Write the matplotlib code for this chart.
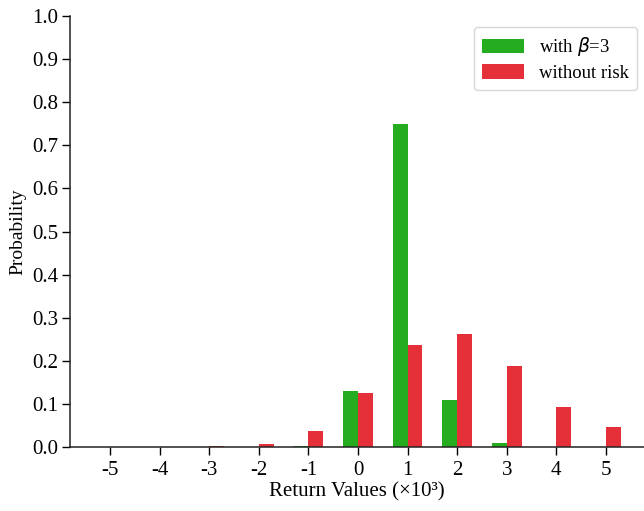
import numpy as np
import matplotlib.pyplot as plt

plt.rcParams['font.family'] = ['Liberation Serif', 'DejaVu Serif']
plt.rcParams['mathtext.fontset'] = 'dejavusans'

# Return values (x10^3) and probability of each outcome
returns = [-5, -4, -3, -2, -1, 0, 1, 2, 3, 4, 5]
prob_beta3 = [0.0, 0.0, 0.0, 0.0, 0.002, 0.13, 0.75, 0.108, 0.009, 0.0, 0.0]
prob_no_risk = [0.0, 0.0, 0.002, 0.008, 0.038, 0.125, 0.236, 0.262, 0.188, 0.094, 0.046]

x = np.array(returns)
width = 0.3

fig = plt.figure(figsize=(6.44, 5.11), dpi=100)
ax = fig.add_axes([0.1087, 0.1252, 0.8913, 0.8435])

ax.bar(x - width / 2, prob_beta3, width, color='#25ad1f', label=r'with $\beta$=3')
ax.bar(x + width / 2, prob_no_risk, width, color='#e5303a', label='without risk')

ax.set_xlim(-5.81, 5.77)
ax.set_ylim(0, 1.0)
ax.set_xticks(returns)
ax.set_xticklabels([str(v) for v in returns])
ax.set_yticks(np.arange(0, 1.01, 0.1))
ax.set_yticklabels(['%.1f' % v for v in np.arange(0, 1.01, 0.1)])
ax.tick_params(labelsize=15, length=6, width=1)
ax.tick_params(axis='y', pad=2.5)
ax.tick_params(axis='x', pad=4)

ax.spines['top'].set_visible(False)
ax.spines['right'].set_visible(False)
for s in ('left', 'bottom'):
    ax.spines[s].set_linewidth(1.1)
    ax.spines[s].set_color('#222222')

ax.set_xlabel('Return Values (×10³)', fontsize=15, labelpad=2)
ax.set_ylabel('Probability', fontsize=14, labelpad=4)

ax.legend(loc='upper right', fontsize=13.5, handlelength=2.2, handleheight=0.8,
          borderpad=0.45, labelspacing=0.32, borderaxespad=0, frameon=True,
          fancybox=True, edgecolor='#cccccc', bbox_to_anchor=(0.988, 0.975))

fig.savefig('out.png', dpi=100)
